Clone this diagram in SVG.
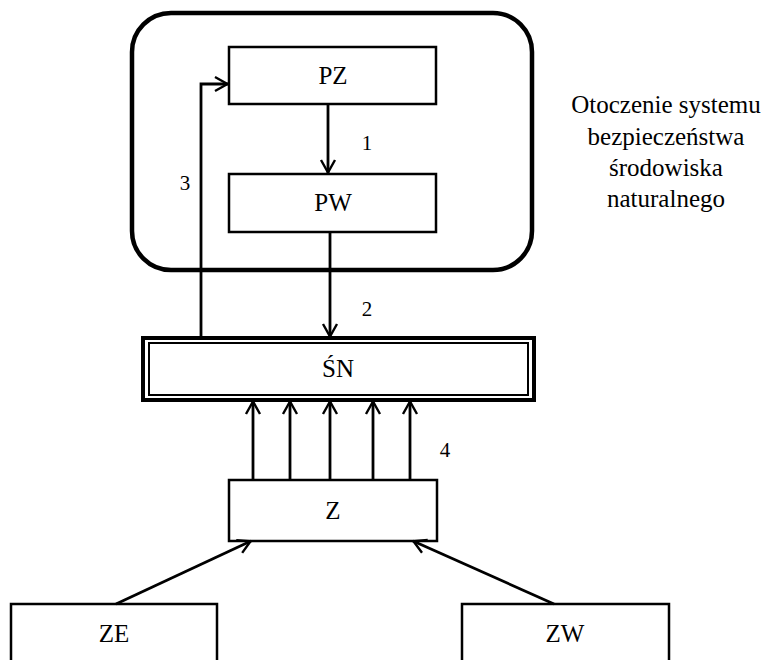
<svg xmlns="http://www.w3.org/2000/svg" width="766" height="660" viewBox="0 0 766 660">
  <style>
    text { font-family: "Liberation Serif", "Times New Roman", serif; fill: #000; text-anchor: middle; }
    .lbl { font-size: 25px; }
    .num { font-size: 21px; }
    .box { fill: #fff; stroke: #000; stroke-width: 2.5; }
    .wire { fill: none; stroke: #000; stroke-width: 2.8; }
  </style>
  <defs>
    <marker id="arrow" viewBox="0 0 16 18" refX="15" refY="9" markerWidth="16" markerHeight="18" markerUnits="userSpaceOnUse" orient="auto">
      <path d="M2,2 L14.5,9 L2,16" fill="none" stroke="#000" stroke-width="2.4"/>
    </marker>
  </defs>

  <!-- environment boundary -->
  <g id="environment">
    <rect x="132" y="13" width="400" height="257" rx="39" ry="39" fill="none" stroke="#000" stroke-width="4.5"/>
    <text class="lbl" x="666" y="113">Otoczenie systemu</text>
    <text class="lbl" x="666" y="145">bezpieczeństwa</text>
    <text class="lbl" x="666" y="176">środowiska</text>
    <text class="lbl" x="666" y="207">naturalnego</text>
  </g>

  <g id="PZ">
    <rect class="box" x="229" y="47" width="207" height="57"/>
    <text class="lbl" x="333" y="84">PZ</text>
  </g>

  <g id="PW">
    <rect class="box" x="229" y="174" width="207" height="58"/>
    <text class="lbl" x="333" y="211">PW</text>
  </g>

  <g id="SN">
    <rect x="143" y="338" width="391" height="62" fill="#fff" stroke="#000" stroke-width="4"/>
    <rect x="149" y="343" width="379" height="52" fill="none" stroke="#000" stroke-width="2"/>
    <text class="lbl" x="338" y="377">ŚN</text>
  </g>

  <g id="Z">
    <rect class="box" x="229" y="480" width="208" height="61"/>
    <text class="lbl" x="333" y="519">Z</text>
  </g>

  <g id="ZE">
    <rect class="box" x="11" y="604" width="206" height="70"/>
    <text class="lbl" x="114" y="642">ZE</text>
  </g>

  <g id="ZW">
    <rect class="box" x="462" y="604" width="207" height="70"/>
    <text class="lbl" x="565" y="642">ZW</text>
  </g>

  <g id="connectors">
    <!-- 1: PZ to PW -->
    <line class="wire" x1="328" y1="104" x2="328" y2="173" marker-end="url(#arrow)"/>
    <text class="num" x="367" y="150">1</text>
    <!-- 2: PW to ŚN -->
    <line class="wire" x1="330" y1="232" x2="330" y2="337" marker-end="url(#arrow)"/>
    <text class="num" x="367" y="316">2</text>
    <!-- 3: feedback from ŚN to PZ -->
    <polyline class="wire" points="201,337 201,84 228,84" marker-end="url(#arrow)"/>
    <text class="num" x="185" y="190">3</text>
    <!-- 4: threats acting on ŚN -->
    <line class="wire" x1="253" y1="480" x2="253" y2="401" marker-end="url(#arrow)"/>
    <line class="wire" x1="290" y1="480" x2="290" y2="401" marker-end="url(#arrow)"/>
    <line class="wire" x1="330" y1="480" x2="330" y2="401" marker-end="url(#arrow)"/>
    <line class="wire" x1="373" y1="480" x2="373" y2="401" marker-end="url(#arrow)"/>
    <line class="wire" x1="410" y1="480" x2="410" y2="401" marker-end="url(#arrow)"/>
    <text class="num" x="445" y="457">4</text>
    <!-- external and internal threats into Z -->
    <line class="wire" x1="116" y1="604" x2="251" y2="541" marker-end="url(#arrow)"/>
    <line class="wire" x1="554" y1="604" x2="413" y2="541" marker-end="url(#arrow)"/>
  </g>
</svg>
